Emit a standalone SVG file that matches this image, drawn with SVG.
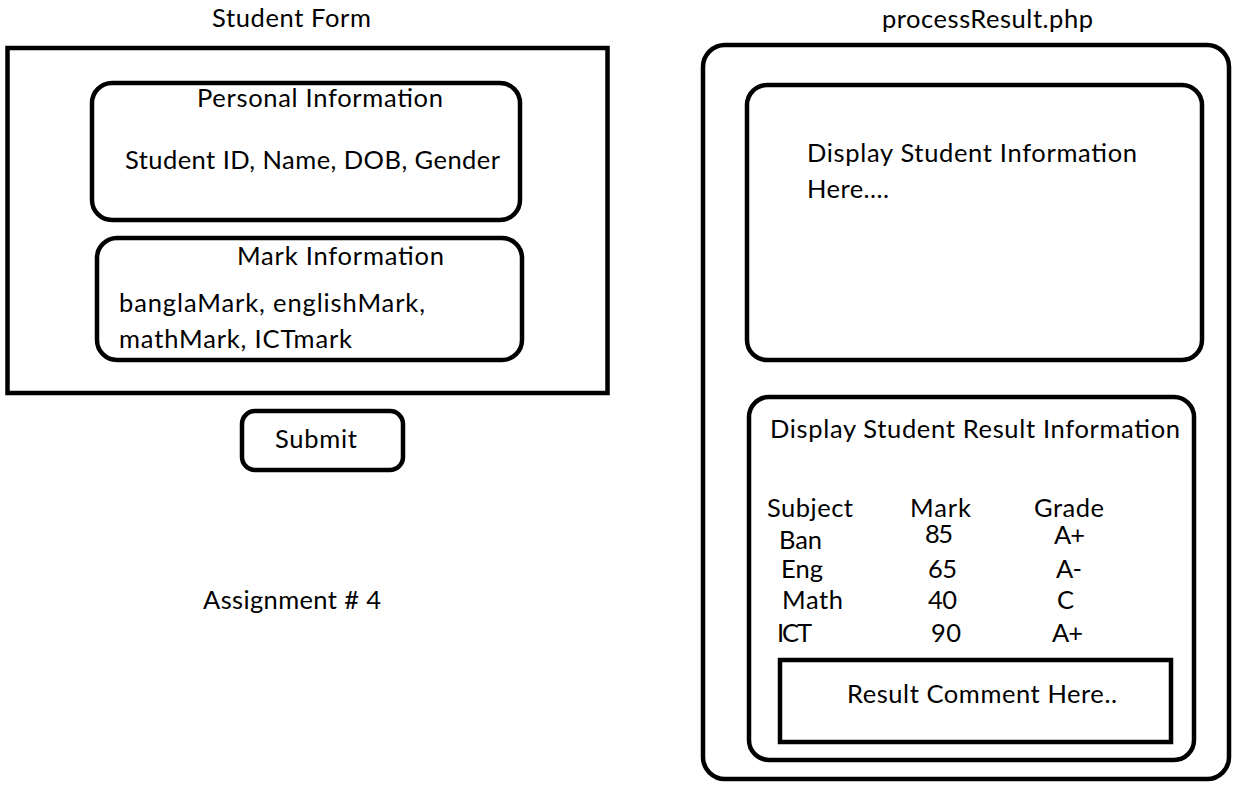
<svg xmlns="http://www.w3.org/2000/svg" width="1253" height="794" viewBox="0 0 1253 794">
<style>
.b{fill:none;stroke:#000;stroke-width:4.5}
.t{font-family:Lato,"Open Sans",sans-serif;font-size:25.5px;fill:#000}
</style>
<rect width="1253" height="794" fill="#fff"/>
<g id="student-form">
<text class="t" x="212" y="27" textLength="159">Student Form</text>
<rect class="b" x="7.5" y="48" width="600" height="345" stroke-width="5"/>
</g>
<g id="personal-info">
<rect class="b" x="92" y="83" width="428" height="137" rx="20"/>
<text class="t" x="197" y="107" textLength="246">Personal Information</text>
<text class="t" x="125" y="169" textLength="375">Student ID, Name, DOB, Gender</text>
</g>
<g id="mark-info">
<rect class="b" x="97" y="238" width="425" height="122" rx="20"/>
<text class="t" x="237" y="265" textLength="207">Mark Information</text>
<text class="t" x="119" y="312" textLength="306">banglaMark, englishMark,</text>
<text class="t" x="119" y="348" textLength="233">mathMark, ICTmark</text>
</g>
<g id="submit">
<rect class="b" x="242" y="411" width="161" height="59" rx="13"/>
<text class="t" x="275" y="448" textLength="82">Submit</text>
</g>
<g id="assignment">
<text class="t" x="203" y="609" textLength="178">Assignment # 4</text>
</g>
<g id="process-result">
<text class="t" x="882" y="28" textLength="211">processResult.php</text>
<rect class="b" x="703" y="45" width="526" height="734" rx="22"/>
</g>
<g id="display-info">
<rect class="b" x="747" y="85" width="455" height="275" rx="20"/>
<text class="t" x="807" y="162" textLength="330">Display Student Information</text>
<text class="t" x="807" y="198" textLength="82">Here....</text>
</g>
<g id="display-result">
<rect class="b" x="749" y="397" width="445" height="363" rx="20"/>
<text class="t" x="770" y="438" textLength="410">Display Student Result Information</text>
<text class="t" x="767" y="517" textLength="86">Subject</text>
<text class="t" x="910" y="517" textLength="61">Mark</text>
<text class="t" x="1034" y="517" textLength="70">Grade</text>
<text class="t" x="779" y="549" textLength="43">Ban</text>
<text class="t" x="925" y="543" textLength="28">85</text>
<text class="t" x="1054" y="544" textLength="31">A+</text>
<text class="t" x="781" y="578" textLength="42">Eng</text>
<text class="t" x="928" y="578" textLength="29">65</text>
<text class="t" x="1056" y="578" textLength="26">A-</text>
<text class="t" x="782" y="609" textLength="61">Math</text>
<text class="t" x="928" y="609" textLength="29">40</text>
<text class="t" x="1057" y="609" textLength="14">C</text>
<text class="t" x="777" y="642" textLength="35">ICT</text>
<text class="t" x="931" y="642" textLength="30">90</text>
<text class="t" x="1052" y="642" textLength="31">A+</text>
</g>
<g id="result-comment">
<rect class="b" x="780" y="660" width="391" height="82" stroke-width="5"/>
<text class="t" x="847" y="703" textLength="270">Result Comment Here..</text>
</g>
<g id="connectors"></g>
</svg>
